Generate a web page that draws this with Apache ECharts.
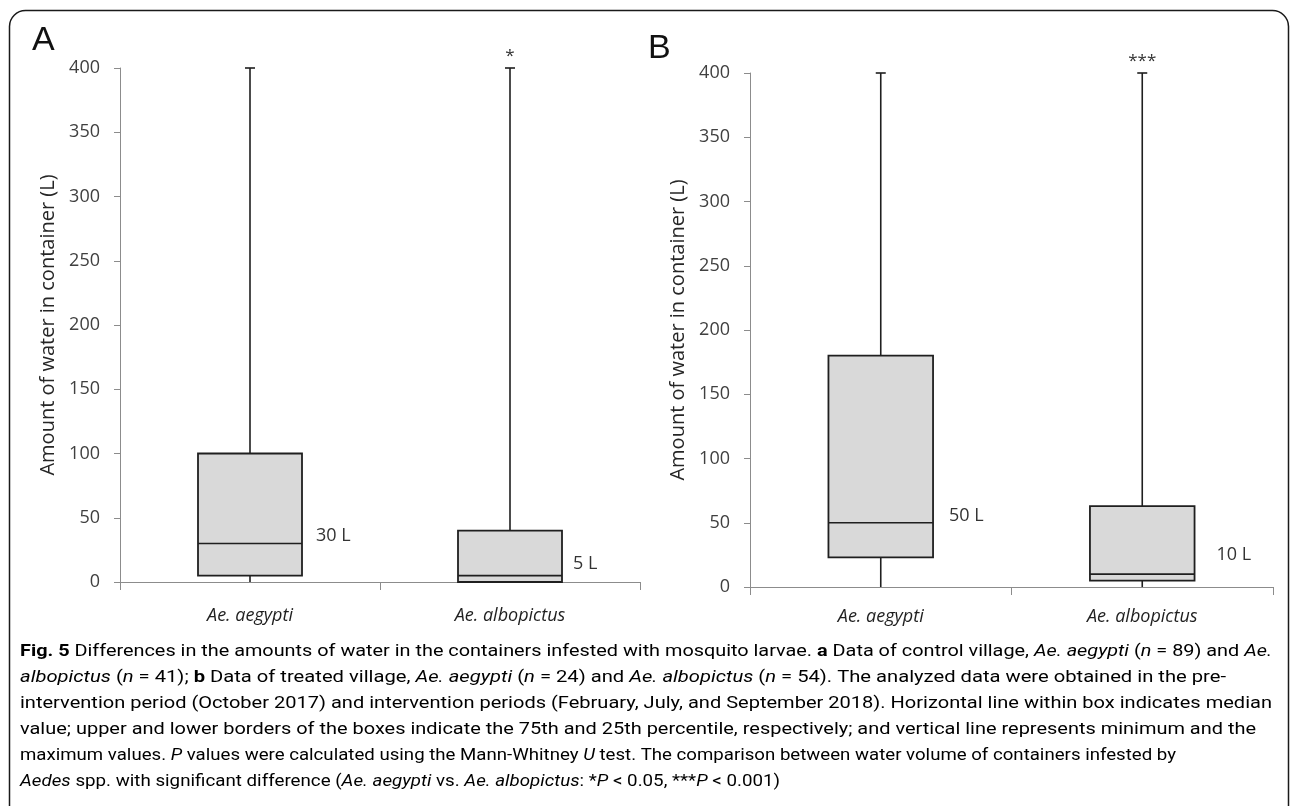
<!DOCTYPE html>
<html lang="en">
<head>
<meta charset="UTF-8">
<title>Fig. 5</title>
<script src="https://cdn.jsdelivr.net/npm/echarts@6/dist/echarts.min.js"></script>
<style>
    html, body { margin: 0; padding: 0; background: #fff; }
    #chart { width: 1293px; height: 806px; }
</style>
</head>
<body>
<div id="chart"></div>
<script type="text/javascript">
    // categories (same in both panels)
    var categories = ['Ae. aegypti', 'Ae. albopictus'];

    // panel A - control village
    var minA = [0, 0];
    var q1A = [5, 0];
    var medA = [30, 5];
    var q3A = [100, 40];
    var maxA = [400, 400];
    var medLabelA = ['30 L', '5 L'];
    var sigA = ['', '*'];

    // panel B - treated village
    var minB = [0, 0];
    var q1B = [23, 5];
    var medB = [50, 10];
    var q3B = [180, 63];
    var maxB = [400, 400];
    var medLabelB = ['50 L', '10 L'];
    var sigB = ['', '***'];

    var yMin = 0, yMax = 400, yStep = 50;

    // caption, one array per printed line: [style, text]
    var captionLines = [
        [['b', 'Fig. 5'], ['n', ' Differences in the amounts of water in the containers infested with mosquito larvae. '], ['b', 'a'], ['n', ' Data of control village, '], ['i', 'Ae. aegypti'], ['n', ' ('], ['i', 'n'], ['n', ' = 89) and '], ['i', 'Ae.']],
        [['i', 'albopictus'], ['n', ' ('], ['i', 'n'], ['n', ' = 41); '], ['b', 'b'], ['n', ' Data of treated village, '], ['i', 'Ae. aegypti'], ['n', ' ('], ['i', 'n'], ['n', ' = 24) and '], ['i', 'Ae. albopictus'], ['n', ' ('], ['i', 'n'], ['n', ' = 54). The analyzed data were obtained in the pre-']],
        [['n', 'intervention period (October 2017) and intervention periods (February, July, and September 2018). Horizontal line within box indicates median']],
        [['n', 'value; upper and lower borders of the boxes indicate the 75th and 25th percentile, respectively; and vertical line represents minimum and the']],
        [['n', 'maximum values. '], ['i', 'P'], ['n', ' values were calculated using the Mann-Whitney '], ['i', 'U'], ['n', ' test. The comparison between water volume of containers infested by']],
        [['i', 'Aedes'], ['n', ' spp. with significant difference ('], ['i', 'Ae. aegypti'], ['n', ' vs. '], ['i', 'Ae. albopictus'], ['n', ': *'], ['i', 'P'], ['n', ' < 0.05, ***'], ['i', 'P'], ['n', ' < 0.001)']]
    ];

    // layout bits
    var chartFont = "'Open Sans', 'DejaVu Sans', sans-serif";
    var capFont = "Roboto, 'Open Sans', sans-serif";
    var capSize = 17;
    var capX = 20, capY0 = 652, capStep = 26;
    var capWidths = [1252, 1206, 1252, 1236, 1156, 760];   // printed width of each line
    var labelLayoutA = {gap: [14, 11], dy: [-8, -12]};
    var labelLayoutB = {gap: [16, 22], dy: [-7, -19]};

    function boxData(mn, q1, md, q3, mx) {
        return categories.map(function (c, i) {
            return [i, mn[i], q1[i], md[i], q3[i], mx[i]];
        });
    }

    function boxRenderer(labels, stars, lay) {
        return function (params, api) {
            var i = params.dataIndex;
            var c = api.value(0);
            var x = api.coord([c, 0])[0];
            var yLo = api.coord([c, api.value(1)])[1];
            var yQ1 = api.coord([c, api.value(2)])[1];
            var yMd = api.coord([c, api.value(3)])[1];
            var yQ3 = api.coord([c, api.value(4)])[1];
            var yHi = api.coord([c, api.value(5)])[1];
            var w = api.size([1, 0])[0] * 0.4;
            var ln = {stroke: '#1f1f1f', lineWidth: 1.6};
            return {
                type: 'group',
                children: [
                    {type: 'line', shape: {x1: x, y1: yQ3, x2: x, y2: yHi}, style: ln},
                    {type: 'line', shape: {x1: x, y1: yLo, x2: x, y2: yQ1}, style: ln},
                    {type: 'line', shape: {x1: x - 5, y1: yHi, x2: x + 5, y2: yHi}, style: ln},
                    {type: 'rect', shape: {x: x - w / 2, y: yQ3, width: w, height: yQ1 - yQ3},
                        style: {fill: '#d9d9d9', stroke: '#1f1f1f', lineWidth: 1.8}},
                    {type: 'line', shape: {x1: x - w / 2, y1: yMd, x2: x + w / 2, y2: yMd}, style: ln},
                    {type: 'text', x: x + w / 2 + lay.gap[i], y: yMd + lay.dy[i],
                        style: {text: labels[i], fill: '#333', fontSize: 18, fontFamily: chartFont, verticalAlign: 'middle'}},
                    {type: 'text', x: x, y: yHi - 12,
                        style: {text: stars[i], fill: '#333', fontSize: 17, fontFamily: chartFont, align: 'center', verticalAlign: 'middle'}}
                ]
            };
        };
    }

    function yAxisOpt(gi) {
        return {
            type: 'value', gridIndex: gi, min: yMin, max: yMax, interval: yStep,
            name: 'Amount of water in container (L)', nameLocation: 'middle', nameGap: 62,
            nameTextStyle: {fontSize: 20, color: '#262626', fontFamily: chartFont},
            axisLine: {show: true, lineStyle: {color: '#8c8c8c', width: 1}},
            axisTick: {show: true, length: 6, lineStyle: {color: '#8c8c8c'}},
            axisLabel: {fontSize: 18, color: '#404040', margin: 20, fontFamily: chartFont},
            splitLine: {show: false}
        };
    }

    function xAxisOpt(gi, margin) {
        return {
            type: 'category', gridIndex: gi, data: categories, boundaryGap: true,
            axisLine: {show: true, lineStyle: {color: '#8c8c8c', width: 1}},
            axisTick: {show: true, length: 8, lineStyle: {color: '#8c8c8c'}},
            axisLabel: {fontSize: 18, fontStyle: 'italic', color: '#1f1f1f', margin: margin, fontFamily: chartFont},
            splitLine: {show: false}
        };
    }

    // caption text, each line scaled to its printed width
    var ctx = document.createElement('canvas').getContext('2d');
    var richStyles = {
        n: {fontSize: capSize, fontFamily: capFont, color: '#231f20'},
        i: {fontSize: capSize, fontFamily: capFont, fontStyle: 'italic', color: '#231f20'},
        b: {fontSize: capSize, fontFamily: capFont, fontWeight: 'bold', color: '#231f20'}
    };
    function segFont(k) {
        return (k === 'i' ? 'italic ' : '') + (k === 'b' ? 'bold ' : '') + capSize + 'px ' + capFont;
    }
    function measure(segs) {
        var w = 0;
        segs.forEach(function (g) {
            ctx.font = segFont(g[0]);
            w += ctx.measureText(g[1]).width;
        });
        return w;
    }
    var captionGraphics = captionLines.map(function (segs, k) {
        return {
            type: 'text', x: capX, y: capY0 + k * capStep, scaleX: capWidths[k] / measure(segs),
            style: {
                text: segs.map(function (g) { return '{' + g[0] + '|' + g[1] + '}'; }).join(''),
                rich: richStyles, verticalAlign: 'middle'
            }
        };
    });

    var chart = echarts.init(document.getElementById('chart'));
    var option = {
        backgroundColor: '#fff',
        animation: false,
        grid: [
            {left: 120, top: 68, width: 520, height: 514},
            {left: 750, top: 73, width: 523, height: 514}
        ],
        xAxis: [xAxisOpt(0, 25), xAxisOpt(1, 21)],
        yAxis: [yAxisOpt(0), yAxisOpt(1)],
        series: [
            {
                type: 'custom', xAxisIndex: 0, yAxisIndex: 0, clip: false,
                encode: {x: 0, y: [1, 2, 3, 4, 5]},
                data: boxData(minA, q1A, medA, q3A, maxA),
                renderItem: boxRenderer(medLabelA, sigA, labelLayoutA)
            },
            {
                type: 'custom', xAxisIndex: 1, yAxisIndex: 1, clip: false,
                encode: {x: 0, y: [1, 2, 3, 4, 5]},
                data: boxData(minB, q1B, medB, q3B, maxB),
                renderItem: boxRenderer(medLabelB, sigB, labelLayoutB)
            }
        ],
        graphic: [
            {type: 'rect', shape: {x: 9.5, y: 10.5, width: 1279, height: 900, r: 16},
                style: {fill: 'none', stroke: '#1a1a1a', lineWidth: 1.5}, silent: true},
            {type: 'text', x: 32, y: 24, style: {text: 'A', fontSize: 34, fontFamily: "'Liberation Sans', sans-serif", fill: '#111'}},
            {type: 'text', x: 648, y: 32, style: {text: 'B', fontSize: 34, fontFamily: "'Liberation Sans', sans-serif", fill: '#111'}}
        ].concat(captionGraphics)
    };
    chart.setOption(option);
</script>
</body>
</html>
